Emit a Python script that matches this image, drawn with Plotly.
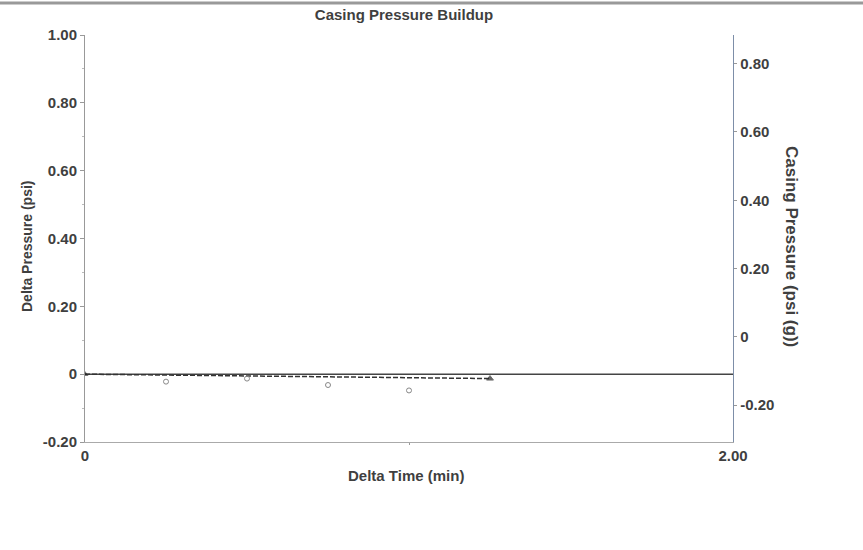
import plotly.graph_objects as go

# ---- data ----
zero_time = [0.0, 2.0]
zero_dp = [0.0, 0.0]

trend_time = [0.0, 1.25]
trend_dp = [0.0, -0.013]

obs_time = [0.25, 0.50, 0.75, 1.00]
obs_dp = [-0.022, -0.013, -0.032, -0.048]

x_ticks = [0, 2.0]
x_ticktext = ["0", "2.00"]
y_ticks = [-0.2, 0, 0.2, 0.4, 0.6, 0.8, 1.0]
y_ticktext = ["-0.20", "0", "0.20", "0.40", "0.60", "0.80", "1.00"]
y2_ticks = [-0.2, 0, 0.2, 0.4, 0.6, 0.8]
y2_ticktext = ["-0.20", "0", "0.20", "0.40", "0.60", "0.80"]

FONT = "Liberation Sans, Arial, sans-serif"
TXT = "#3f3f3f"

fig = go.Figure()
fig.add_trace(go.Scatter(x=zero_time, y=zero_dp, mode="lines",
                         line=dict(color="#444444", width=1.5), showlegend=False))
fig.add_trace(go.Scatter(x=trend_time, y=trend_dp, mode="lines+markers",
                         line=dict(color="#333333", width=1.5, dash="5px,2px"),
                         marker=dict(symbol="triangle-up", size=[5, 6], color="#222222"),
                         showlegend=False))
fig.add_trace(go.Scatter(x=obs_time, y=obs_dp, mode="markers",
                         marker=dict(symbol="circle-open", size=5, color="#888888",
                                     line=dict(width=1)),
                         showlegend=False))
# invisible trace to activate right axis
fig.add_trace(go.Scatter(x=[0], y=[None], yaxis="y2", mode="markers", showlegend=False,
                         hoverinfo="skip"))

fig.update_layout(
    width=863, height=550,
    margin=dict(l=85, r=130, t=35, b=108),
    paper_bgcolor="white", plot_bgcolor="white",
    font=dict(family=FONT, color=TXT, size=15),
    title=dict(text="Casing Pressure Buildup", x=404/863, xanchor="center",
               y=1 - 15/550, yanchor="middle",
               font=dict(family=FONT, size=15, color=TXT, weight="bold")),
    xaxis=dict(range=[0, 2], tickvals=x_ticks, ticktext=x_ticktext,
               showgrid=False, zeroline=False, showline=True, linecolor="#aaaaaa",
               linewidth=1, ticks="", tickfont=dict(size=15, color=TXT, weight="bold"),
               minor=dict(tickvals=[1.0], ticks="outside", ticklen=2, tickcolor="#999999"),
               fixedrange=True),
    yaxis=dict(range=[-0.2, 1.0], tickvals=y_ticks, ticktext=y_ticktext,
               showgrid=False, zeroline=False, showline=True, linecolor="#999999",
               linewidth=1, ticks="outside", ticklen=4, tickcolor="#999999",
               tickfont=dict(size=15, color=TXT, weight="bold"),
               minor=dict(dtick=0.1, ticks="outside", ticklen=2, tickcolor="#bbbbbb"),
               fixedrange=True),
    yaxis2=dict(range=[-0.308, 0.884], tickvals=y2_ticks, ticktext=y2_ticktext,
                overlaying="y", side="right", anchor="x",
                showgrid=False, zeroline=False, showline=True, linecolor="#7d8ea8",
                linewidth=1.2, ticks="outside", ticklen=3, tickcolor="#999999",
                tickfont=dict(size=15, color=TXT, weight="bold"), fixedrange=True),
    annotations=[
        dict(text="Delta Time (min)", xref="paper", yref="paper",
             x=(406 - 85) / 648, y=(442 - 476) / 407, showarrow=False,
             xanchor="center", yanchor="middle",
             font=dict(family=FONT, size=15, color=TXT, weight="bold")),
        dict(text="Delta Pressure (psi)", xref="paper", yref="paper",
             x=(27 - 85) / 648, y=(442 - 246) / 407, showarrow=False, textangle=-90,
             xanchor="center", yanchor="middle",
             font=dict(family=FONT, size=14, color=TXT, weight="bold")),
        dict(text="Casing Pressure (psi (g))", xref="paper", yref="paper",
             x=(792 - 85) / 648, y=(442 - 246) / 407, showarrow=False, textangle=90,
             xanchor="center", yanchor="middle",
             font=dict(family=FONT, size=17, color=TXT, weight="bold")),
    ],
    shapes=[
        dict(type="line", xref="paper", yref="paper",
             x0=-85 / 648, x1=(863 - 85) / 648,
             y0=(442 - 3) / 407, y1=(442 - 3) / 407,
             line=dict(color="#999999", width=3)),
    ],
)

fig.write_html("out.html",
               config={"displayModeBar": False, "staticPlot": True},
               post_script="document.body.style.margin='0';document.body.style.overflow='hidden';")
